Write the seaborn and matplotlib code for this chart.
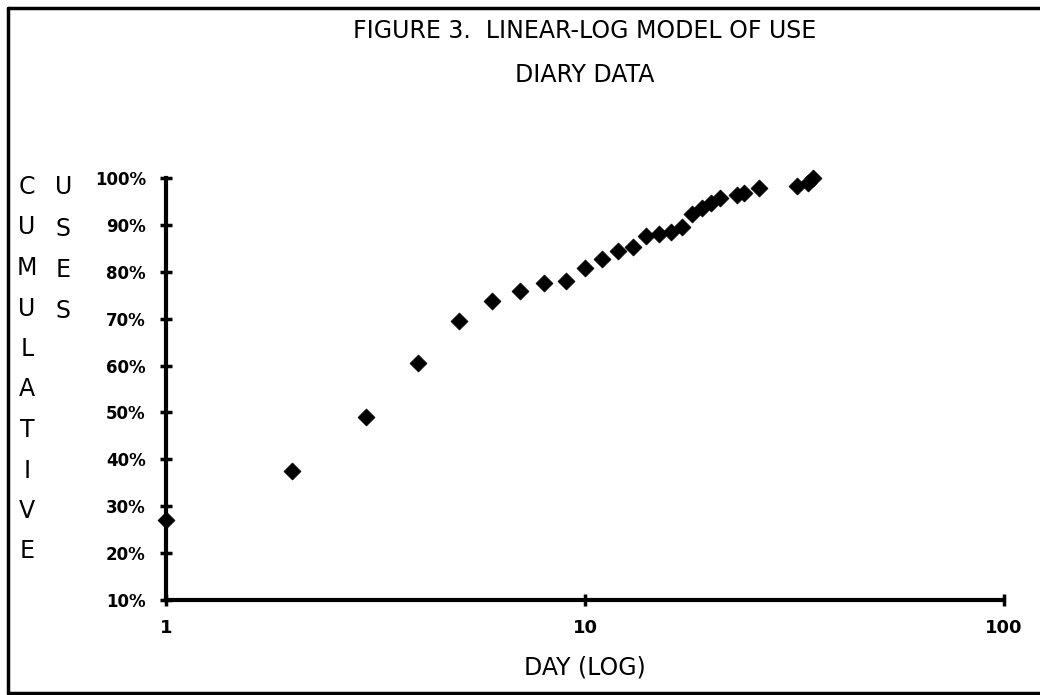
import pandas as pd
import matplotlib
matplotlib.use('Agg')
import matplotlib.pyplot as plt
import seaborn as sns
from matplotlib.lines import Line2D

# values
day = [1, 2, 3, 4, 5, 6, 7, 8, 9, 10, 11, 12, 13, 14, 15, 16, 17, 18, 19,
       20, 21, 23, 24, 26, 32, 34, 35]
cum_use = [27.0, 37.5, 49.0, 60.6, 69.6, 73.8, 75.8, 77.6, 78.1, 80.8, 82.7,
           84.5, 85.3, 87.7, 88.1, 88.4, 89.6, 92.4, 93.6, 94.7, 95.7, 96.3,
           96.8, 97.8, 98.2, 99.0, 100.0]
y_ticks = [10, 20, 30, 40, 50, 60, 70, 80, 90, 100]
y_tick_labels = ['10%', '20%', '30%', '40%', '50%', '60%', '70%', '80%', '90%', '100%']
x_ticks = [1, 10, 100]
x_tick_labels = ['1', '10', '100']

df = pd.DataFrame({'day': day, 'cum_use': cum_use})

sns.set_style('white')
plt.rcParams['font.family'] = ['DejaVu Sans']
plt.rcParams['text.color'] = 'black'
plt.rcParams['xtick.color'] = 'black'
plt.rcParams['ytick.color'] = 'black'

fig = plt.figure(figsize=(10.4, 6.95), dpi=100)
ax = fig.add_axes([0.1596, 0.1367, 0.8058, 0.6072])

sns.scatterplot(x='day', y='cum_use', data=df, ax=ax, marker='D', s=75,
                color='black', edgecolor='black', linewidth=0.5, clip_on=False, legend=False)

ax.set_xscale('log')
ax.set_xlim(1, 100)
ax.set_ylim(10, 100)
ax.set_xticks(x_ticks)
ax.set_xticklabels(x_tick_labels, fontsize=13, fontweight='bold')
ax.xaxis.set_minor_locator(matplotlib.ticker.NullLocator())
ax.set_yticks(y_ticks)
ax.set_yticklabels(y_tick_labels, fontsize=12, fontweight='bold')
ax.tick_params(axis='both', direction='inout', length=9, width=2.5, color='black',
               left=True, bottom=True)
ax.tick_params(axis='x', pad=9)
ax.tick_params(axis='y', pad=10)
ax.set_xlabel('')
ax.set_ylabel('')
for side in ['top', 'right']:
    ax.spines[side].set_visible(False)
for side in ['left', 'bottom']:
    ax.spines[side].set_linewidth(3)
    ax.spines[side].set_color('black')

fig.text(0.5625, 1 - 31 / 695, 'FIGURE 3.  LINEAR-LOG MODEL OF USE', ha='center', va='center',
         fontsize=17)
fig.text(0.5625, 1 - 75 / 695, 'DIARY DATA', ha='center', va='center', fontsize=17)
fig.text(0.5625, 1 - 667 / 695, 'DAY (LOG)', ha='center', va='center', fontsize=17)

# stacked vertical axis captions
for i, ch in enumerate('CUMULATIVE'):
    fig.text(0.026, 1 - (187 + i * 40.5) / 695, ch, ha='center', va='center', fontsize=17)
for i, ch in enumerate('USES'):
    fig.text(0.061, 1 - (187 + i * 41.5) / 695, ch, ha='center', va='center', fontsize=17)

# frame of the scanned page: left, top and bottom edges
x0, y_top, y_bot = 8 / 1040, 1 - 8 / 695, 1 - 693 / 695
for xs, ys in [([x0, x0], [y_bot, y_top]), ([x0, 1], [y_top, y_top]), ([x0, 1], [y_bot, y_bot])]:
    fig.lines.append(Line2D(xs, ys, transform=fig.transFigure, color='black', linewidth=2.5))

fig.savefig('out.png', dpi=100)
